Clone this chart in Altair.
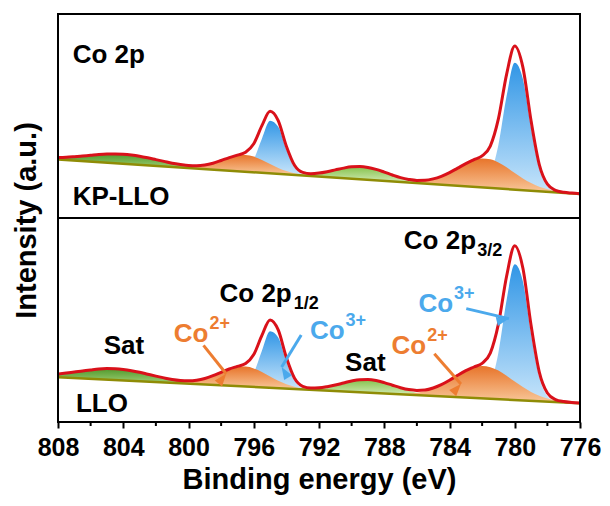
import numpy as np
import pandas as pd
import altair as alt

# Co 2p XPS fits, intensities in arbitrary units (0-204 per panel), sampled every 0.5 eV.
STEP = 0.5

# ---- KP-LLO (upper panel) ----
up_base_E = [808, 776]
up_base = [58.6, 24.1]
up_sat1_start, up_sat1 = 808.0, [60.4, 60.7, 61.3, 62, 62.7, 63.4, 63.9, 64.1, 63.8, 63, 61.8, 60.2,
                                 58.4, 56.6, 54.8, 53.2, 51.8, 50.6, 49.6, 48.8]
up_co2_12_start, up_co2_12 = 800.0, [50.7, 51.1, 52.3, 54.4, 57.3, 60.3, 62.5, 63, 61.4, 58.1, 54, 50.1,
                                     46.9, 44.7, 43.2]
up_co3_12_start, up_co3_12 = 797.0, [47.1, 49, 58.6, 79.3, 97.3, 91.3, 68.2, 50.5, 43.8]
up_sat2_start, up_sat2 = 793.5, [43.4, 43.5, 43.9, 44.8, 46.3, 48.1, 49.9, 51.2, 51.5, 50.6, 48.6, 45.8,
                                 42.9, 40.1, 37.9, 36.2, 35.0]
up_co2_32_start, up_co2_32 = 786.5, [36.1, 36.3, 37.1, 38.8, 41.5, 45.4, 49.9, 54.4, 57.9, 59.6, 58.8,
                                     55.6, 50.8, 45.1, 39.6, 34.9, 31.2, 28.7, 26.9, 25.7]
up_co3_32_start, up_co3_32 = 782.5, [31.4, 33.1, 43.2, 73.2, 121.9, 155.3, 138.9, 89.7, 49.2, 31.4, 26.5]
up_env_start, up_env = 808.0, [60.4, 60.7, 61.3, 62.0, 62.7, 63.4, 63.9, 64.1, 63.8, 63.0, 61.8, 60.2,
                               58.4, 56.6, 54.8, 53.5, 52.5, 52.3, 53.0, 54.8, 57.5, 60.4, 62.9, 65.8,
                               74.3, 92.3, 106.7, 97.4, 71.8, 52.7, 45.6, 44.3, 44.9, 46.3, 48.1, 49.9,
                               51.2, 51.5, 50.6, 48.6, 45.9, 43.0, 40.4, 38.6, 37.6, 37.7, 39.1, 41.7,
                               45.4, 49.9, 54.4, 58.3, 62.1, 71.9, 99.3, 143.7, 171.9, 150.6, 97.2,
                               53.7, 33.8, 27.7, 25.8, 24.9, 24.2]

# ---- LLO (lower panel) ----
lo_base_E = [808, 776]
lo_base = [44.8, 18.7]
lo_sat1_start, lo_sat1 = 808.0, [48, 48.9, 49.9, 51.1, 52.1, 53, 53.4, 53.2, 52.5, 51.3, 49.7, 47.8, 45.8,
                                 44, 42.3, 40.8, 39.7, 38.7, 38]
lo_co2_12_start, lo_co2_12 = 800.5, [39.4, 39.8, 41, 43, 46, 49.6, 52.9, 55.1, 55.4, 53.5, 49.9, 45.5,
                                     41.3, 37.8, 35.3, 33.7, 32.6]
lo_co3_12_start, lo_co3_12 = 797.0, [36.2, 38.5, 48.9, 71.3, 90.8, 84.6, 59.9, 41.1, 34]
lo_sat2_start, lo_sat2 = 793.0, [33.1, 33.4, 34, 35.2, 37, 39, 41, 42.3, 42.5, 41.5, 39.3, 36.6, 33.7,
                                 31.2, 29.1, 27.7, 26.6]
lo_co2_32_start, lo_co2_32 = 787.0, [28.3, 28.5, 29.3, 30.8, 33.4, 37, 41.6, 46.6, 51.3, 54.7, 55.9, 54.8,
                                     51.4, 46.3, 40.5, 34.9, 30, 26.2, 23.4, 21.6, 20.3, 19.5]
lo_co3_32_start, lo_co3_32 = 782.5, [24.3, 26.3, 37.3, 69.5, 121.9, 157.8, 140.4, 87.8, 44.7, 25.9, 20.7]
lo_env_start, lo_env = 808.0, [48, 48.9, 49.9, 51.1, 52.1, 53, 53.4, 53.2, 52.5, 51.3, 49.7, 47.8, 45.9,
                               44.1, 42.5, 41.5, 41.2, 41.8, 43.5, 46.3, 49.7, 53, 55.6, 58.4, 67.4, 86.6,
                               102.1, 92.1, 64.5, 43.7, 35.7, 34, 34.2, 35.3, 37, 39, 41, 42.3, 42.5,
                               41.5, 39.4, 36.8, 34.3, 32.4, 31.6, 32, 34, 37.3, 41.7, 46.7, 51.3, 55,
                               58.7, 68.9, 98.1, 145.8, 176.3, 153.7, 96.7, 50.2, 29, 22.4, 20.4, 19.5,
                               18.9]

x_ticks = [808, 804, 800, 796, 792, 788, 784, 780, 776]
x_minor = [806, 802, 798, 794, 790, 786, 782, 778]

up_text = ["Co 2p", "KP-LLO"]
up_text_E = [807.1, 807.1]
up_text_I = [155, 13]

lo_text = ["LLO", "Sat", "Co 2p", "1/2", "Co 2p", "3/2", "Co", "2+", "Co", "3+", "Sat", "Co", "2+", "Co", "3+"]
lo_text_E = [806.9, 805.2, 798.1, 793.55, 786.8, 782.3, 800.9, 798.72, 792.55, 790.37, 790.4,
             787.55, 785.37, 785.9, 783.72]
lo_text_I = [10, 68, 120, 113, 173, 166, 80, 93, 82.6, 95.7, 51.5, 67.6, 81, 110, 123]

arrow_E0 = [799.08, 793.09, 784.93, 782.97]
arrow_I0 = [76.6, 87, 68.2, 113.4]
arrow_E1 = [797.69, 794.29, 783.3, 780.36]
arrow_I1 = [48.2, 55, 38.1, 103.4]

ORANGE = "#ED7D31"
BLUE = "#4BA9EC"
FONT = "Liberation Sans"
W, H = 522, 204
FILLS = {
    "co3": ("#3196e6", "#c6e4fa"),
    "co2": ("#e8742a", "#f8c89a"),
    "sat1": ("#4f9a2c", "#a3d078"),
    "sat2": ("#84c24c", "#d4ebb6"),
}

xscale = alt.Scale(domain=[776, 808], reverse=True, nice=False, zero=False)
yscale = alt.Scale(domain=[0, 204], nice=False, zero=False)


def sampled(start, values):
    return pd.DataFrame({"E": [start - i * STEP for i in range(len(values))], "I": values})


def build(comps, base_E, base_I, env, labels, arrows, show_axes):
    if show_axes:
        xax = alt.Axis(values=x_ticks, title="Binding energy (eV)", format="d",
                       tickSize=6, tickWidth=2, tickColor="black", domain=False, grid=False,
                       labelFont=FONT, labelFontWeight="bold", labelFontSize=25, labelColor="black",
                       labelPadding=7, titleFont=FONT, titleFontWeight="bold", titleFontSize=29,
                       titleColor="black", titlePadding=5, labelFlush=False)
        yax = alt.Axis(title="Intensity (a.u.)", labels=False, ticks=False, domain=False, grid=False,
                       titleFont=FONT, titleFontWeight="bold", titleFontSize=29, titleColor="black",
                       titleX=-17, titleY=2, titleAngle=270, titleBaseline="bottom", titleAlign="center")
    else:
        xax = None
        yax = None

    def X(f):
        return alt.X(f, type="quantitative", scale=xscale, axis=xax)

    def Y(f):
        return alt.Y(f, type="quantitative", scale=yscale, axis=yax)

    layers = []
    # fitted components, each filled down to the panel floor; the background cut below hides the rest
    for key, df in comps:
        frac = (df["I"].max() - df["I"].min()) / df["I"].max()
        ctop, cbot = FILLS[key]
        grad = alt.Gradient(gradient="linear", x1=0, x2=0, y1=0, y2=1,
                            stops=[alt.GradientStop(color=ctop, offset=0),
                                   alt.GradientStop(color=cbot, offset=float(min(frac, 1)))])
        layers.append(alt.Chart(df).mark_area(color=grad, interpolate="monotone")
                      .encode(x=X("E"), y=Y("I"), y2=alt.datum(0)))
    bdf = pd.DataFrame({"E": base_E, "I": base_I})
    layers.append(alt.Chart(bdf).mark_area(color="white").encode(x=X("E"), y=Y("I"), y2=alt.datum(0)))
    layers.append(alt.Chart(bdf).mark_line(color="#8f8c06", strokeWidth=2.5).encode(x=X("E"), y=Y("I")))
    layers.append(alt.Chart(env).mark_line(color="#d9111a", strokeWidth=3, interpolate="monotone")
                  .encode(x=X("E"), y=Y("I")))
    frame = pd.DataFrame({"E0": [808], "E1": [776], "I0": [0], "I1": [204]})
    layers.append(alt.Chart(frame).mark_rect(filled=False, stroke="black", strokeWidth=2)
                  .encode(x=X("E0"), x2="E1", y=Y("I0"), y2="I1"))
    if show_axes:
        layers.append(alt.Chart(pd.DataFrame({"E": x_minor})).mark_rule(color="black", strokeWidth=2)
                      .encode(x=X("E"), y=alt.value(H), y2=alt.value(H + 4)))
    if arrows is not None:
        ad = arrows.copy()
        dx = (ad["E0"] - ad["E1"]) * W / 32
        dy = (ad["I0"] - ad["I1"]) * H / 204
        ad["ang"] = (np.degrees(np.arctan2(dx, dy)) + 360) % 360
        for col in [ORANGE, BLUE]:
            sub = ad[ad["col"] == col]
            layers.append(alt.Chart(sub).mark_rule(color=col, strokeWidth=3)
                          .encode(x=X("E0"), x2="E1", y=Y("I0"), y2="I1"))
            layers.append(alt.Chart(sub).mark_point(shape="M0,0L0.6,1.6L-0.6,1.6Z", filled=True,
                                                    color=col, size=240, opacity=1)
                          .encode(x=X("E1"), y=Y("I1"), angle=alt.Angle("ang:Q", scale=None)))
    layers.append(alt.Chart(labels).mark_text(font=FONT, fontWeight="bold", align="left",
                                              baseline="alphabetic")
                  .encode(x=X("E"), y=Y("I"), text="t:N",
                          size=alt.Size("fs:Q", scale=None),
                          color=alt.Color("col:N", scale=None)))
    return alt.layer(*layers).properties(width=W, height=H)


up_comps = [("co3", sampled(up_co3_12_start, up_co3_12)), ("co3", sampled(up_co3_32_start, up_co3_32)),
            ("sat1", sampled(up_sat1_start, up_sat1)), ("sat2", sampled(up_sat2_start, up_sat2)),
            ("co2", sampled(up_co2_12_start, up_co2_12)), ("co2", sampled(up_co2_32_start, up_co2_32))]
lo_comps = [("co3", sampled(lo_co3_12_start, lo_co3_12)), ("co3", sampled(lo_co3_32_start, lo_co3_32)),
            ("sat1", sampled(lo_sat1_start, lo_sat1)), ("sat2", sampled(lo_sat2_start, lo_sat2)),
            ("co2", sampled(lo_co2_12_start, lo_co2_12)), ("co2", sampled(lo_co2_32_start, lo_co2_32))]

BIG, SMALL = 26, 18
up_labels = pd.DataFrame({"t": up_text, "E": up_text_E, "I": up_text_I,
                          "fs": [BIG, BIG], "col": ["black", "black"]})
lo_labels = pd.DataFrame({
    "t": lo_text, "E": lo_text_E, "I": lo_text_I,
    "fs": [BIG, BIG, BIG, SMALL, BIG, SMALL, BIG, SMALL, BIG, SMALL, BIG, BIG, SMALL, BIG, SMALL],
    "col": ["black"] * 6 + [ORANGE] * 2 + [BLUE] * 2 + ["black"] + [ORANGE] * 2 + [BLUE] * 2})
lo_arrows = pd.DataFrame({"E0": arrow_E0, "I0": arrow_I0, "E1": arrow_E1, "I1": arrow_I1,
                          "col": [ORANGE, BLUE, ORANGE, BLUE]})

upper = build(up_comps, up_base_E, up_base, sampled(up_env_start, up_env), up_labels, None, False)
lower = build(lo_comps, lo_base_E, lo_base, sampled(lo_env_start, lo_env), lo_labels, lo_arrows, True)

chart = (alt.vconcat(upper, lower, spacing=0, bounds="flush")
         .properties(padding={"left": 11, "top": 13, "right": 5, "bottom": 5})
         .configure_view(stroke=None)
         .configure_concat(spacing=0))
chart.save("out.html", embed_options={"renderer": "svg", "actions": False})
